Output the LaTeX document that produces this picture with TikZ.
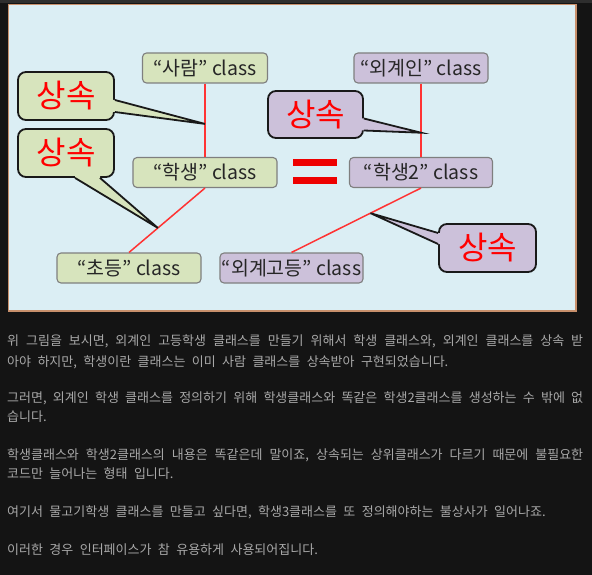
\documentclass[tikz,border=0pt]{standalone}
\usepackage{fontspec}
\setmainfont{Noto Sans CJK KR}
\newfontfamily\bodyfont{Noto Sans CJK KR}
\newcommand\bodysetup{\bodyfont\fontsize{13}{15}\selectfont\spaceskip 6.4pt plus 12pt minus 1pt\relax}
\usetikzlibrary{calc}
\definecolor{PageBg}{HTML}{141414}
\definecolor{TopBar}{HTML}{2E2E2E}
\definecolor{FrameLine}{HTML}{C8906C}
\definecolor{SkyBg}{HTML}{DBEEF4}
\definecolor{LeafGreen}{HTML}{D7E4BD}
\definecolor{LilacFill}{HTML}{CCC1DA}
\definecolor{BoxLine}{HTML}{7F7F7F}
\definecolor{LinkRed}{HTML}{FF3333}
\definecolor{NoteRed}{HTML}{FF0000}
\definecolor{EqRed}{HTML}{EE0000}
\definecolor{BodyGray}{HTML}{A8A8A8}

\begin{document}
\begin{tikzpicture}[x=1pt,y=-1pt,
  classbox/.style={draw=BoxLine,line width=1.1pt,rounded corners=4pt,inner sep=0pt,
    minimum height=30pt,font=\fontsize{19.5}{21}\selectfont,text=black!85},
  greenbox/.style={classbox,fill=LeafGreen},
  lilacbox/.style={classbox,fill=LilacFill},
  notebox/.style={draw=black!90,line width=1.8pt,rounded corners=8pt,inner sep=0pt,
    minimum width=96pt,minimum height=48pt,text=NoteRed,font=\fontsize{32}{34}\selectfont},
  pointer/.style={draw=black!90,line width=1.8pt,line join=miter},
  link/.style={draw=LinkRed,line width=1.5pt},
  bodyline/.style={anchor=base west,inner sep=0pt,text=BodyGray,font=\bodysetup}]
  \useasboundingbox (0,0) rectangle (592,575);

  % Page and frame
  \fill[PageBg] (0,0) rectangle (592,575);
  \fill[TopBar] (0,0) rectangle (592,3);
  \draw[fill=SkyBg,draw=FrameLine,line width=1.2pt] (8.5,4.5) rectangle (576,311);

  % Classes
  \node[greenbox,minimum width=125pt] (saram) at (205,68) {“사람” class};
  \node[greenbox,minimum width=144pt] (haksaeng) at (205,172.5) {“학생” class};
  \node[greenbox,minimum width=144pt] (chodeung) at (129,268) {“초등” class};
  \node[lilacbox,minimum width=134pt] (oegyein) at (421,68) {“외계인” class};
  \node[lilacbox,minimum width=143pt] (haksaeng2) at (421,172.5) {“학생2” class};
  \node[lilacbox,minimum width=143pt] (oegyegodeung) at (291.5,268) {“외계고등” class};

  % Inheritance lines
  \draw[link] (saram.south) -- (haksaeng.north) coordinate[pos=0.55] (tipA);
  \draw[link] (haksaeng.south) -- (chodeung.north) coordinate[pos=0.62] (tipB);
  \draw[link] (oegyein.south) -- (haksaeng2.north) coordinate[pos=0.67] (tipC);
  \draw[link] (haksaeng2.south) -- (oegyegodeung.north) coordinate[pos=0.39] (tipD);

  % Equal sign
  \fill[EqRed] (293,159) rectangle (337,166);
  \fill[EqRed] (293,177) rectangle (337,184);

  % Callout 1
  \node[notebox,fill=LeafGreen] (noteA) at (66,96) {상속};
  \fill[LeafGreen] ($(noteA.east)+(-2,4)$) -- ($(noteA.east)+(0,4)$) -- (tipA)
    -- ($(noteA.east)+(0,16)$) -- ($(noteA.east)+(-2,16)$) -- cycle;
  \draw[pointer] ($(noteA.east)+(0,4)$) -- (tipA) -- ($(noteA.east)+(0,16)$);

  % Callout 2
  \node[notebox,fill=LeafGreen] (noteB) at (66,153) {상속};
  \fill[LeafGreen] ($(noteB.south)+(9,-2)$) -- ($(noteB.south)+(9,0)$) -- (tipB)
    -- ($(noteB.south)+(34,0)$) -- ($(noteB.south)+(34,-2)$) -- cycle;
  \draw[pointer] ($(noteB.south)+(9,0)$) -- (tipB) -- ($(noteB.south)+(34,0)$);

  % Callout 3
  \node[notebox,fill=LilacFill,minimum width=95pt,minimum height=47pt] (noteC) at (315.5,114.5) {상속};
  \fill[LilacFill] ($(noteC.east)+(-2,4)$) -- ($(noteC.east)+(0,4)$) -- (tipC)
    -- ($(noteC.east)+(0,16)$) -- ($(noteC.east)+(-2,16)$) -- cycle;
  \draw[pointer] ($(noteC.east)+(0,4)$) -- (tipC) -- ($(noteC.east)+(0,16)$);

  % Callout 4
  \node[notebox,fill=LilacFill,minimum width=97pt] (noteD) at (487.5,248) {상속};
  \fill[LilacFill] ($(noteD.west)+(2,-15)$) -- ($(noteD.west)+(0,-15)$) -- (tipD)
    -- ($(noteD.west)+(0,-4)$) -- ($(noteD.west)+(2,-4)$) -- cycle;
  \draw[pointer] ($(noteD.west)+(0,-15)$) -- (tipD) -- ($(noteD.west)+(0,-4)$);

  % Text below
  \node[bodyline] (lineA) at (7,345) {\makebox[576pt][s]{위 그림을 보시면, 외계인 고등학생 클래스를 만들기 위해서 학생 클래스와, 외계인 클래스를 상속 받}};
  \node[bodyline] (lineB) at (7,366) {아야 하지만, 학생이란 클래스는 이미 사람 클래스를 상속받아 구현되었습니다.};
  \node[bodyline] (lineC) at (7,402) {\makebox[576pt][s]{그러면, 외계인 학생 클래스를 정의하기 위해 학생클래스와 똑같은 학생2클래스를 생성하는 수 밖에 없}};
  \node[bodyline] (lineD) at (7,421) {습니다.};
  \node[bodyline] (lineE) at (7,459) {\makebox[576pt][s]{학생클래스와 학생2클래스의 내용은 똑같은데 말이죠, 상속되는 상위클래스가 다르기 때문에 불필요한}};
  \node[bodyline] (lineF) at (7,478) {코드만 늘어나는 형태 입니다.};
  \node[bodyline] (lineG) at (7,516) {여기서 물고기학생 클래스를 만들고 싶다면, 학생3클래스를 또 정의해야하는 불상사가 일어나죠.};
  \node[bodyline] (lineH) at (7,554) {이러한 경우 인터페이스가 참 유용하게 사용되어집니다.};
\end{tikzpicture}
\end{document}
